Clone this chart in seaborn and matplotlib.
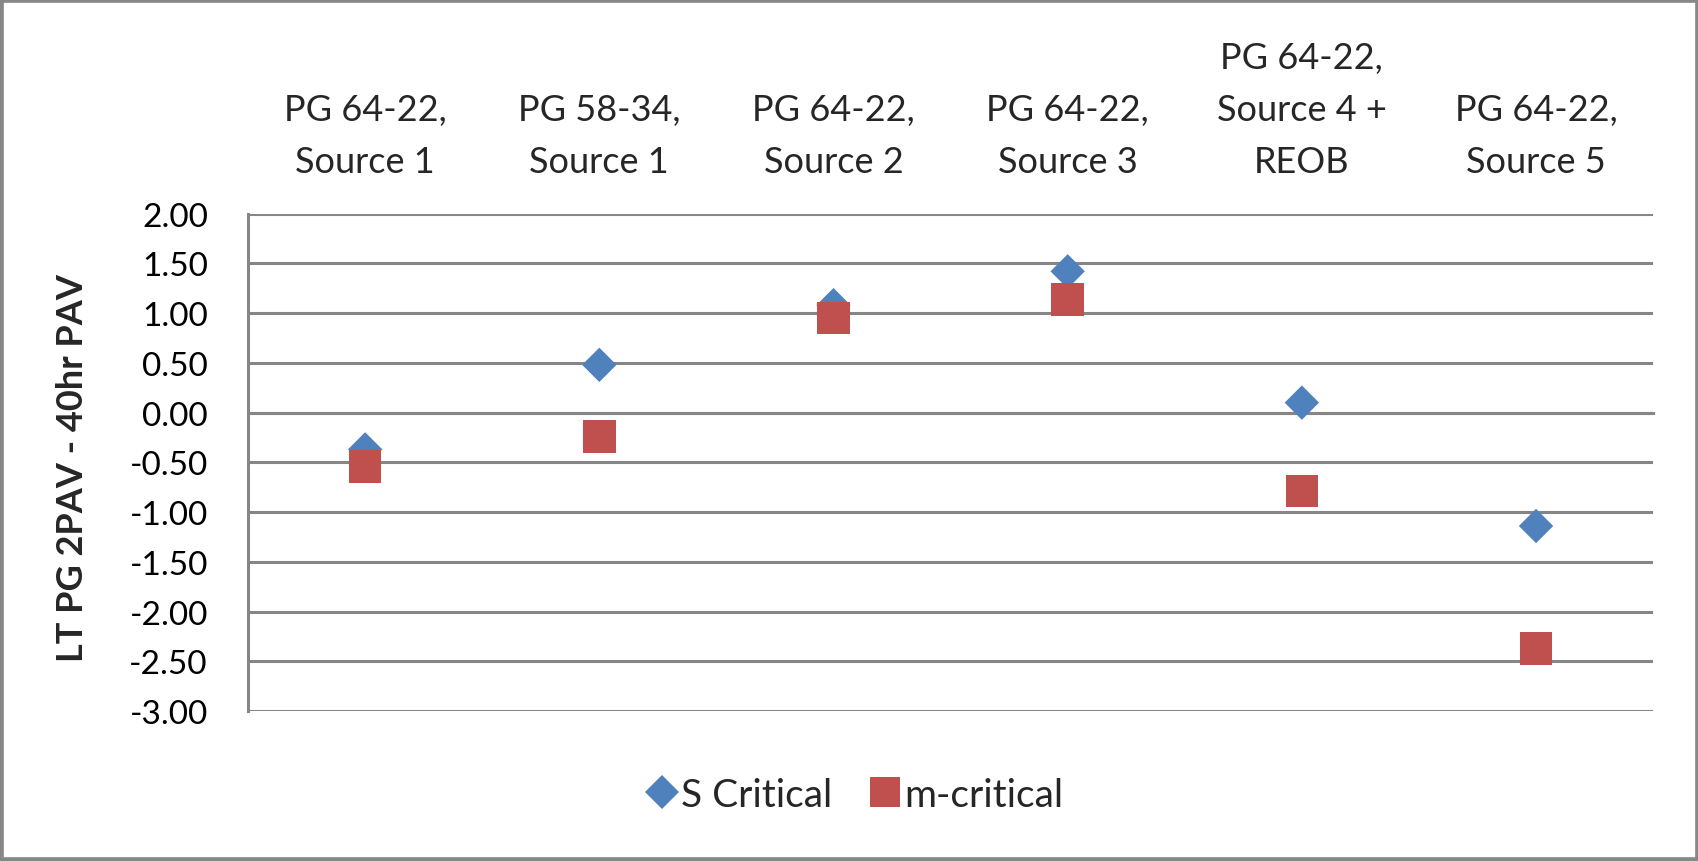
import matplotlib
matplotlib.use("Agg")
import matplotlib.pyplot as plt
import numpy as np
import pandas as pd
import seaborn as sns
from matplotlib.patches import Rectangle

categories = [
    "PG 64-22,\nSource 1",
    "PG 58-34,\nSource 1",
    "PG 64-22,\nSource 2",
    "PG 64-22,\nSource 3",
    "PG 64-22,\nSource 4 +\nREOB",
    "PG 64-22,\nSource 5",
]
s_critical = [-0.37, 0.48, 1.08, 1.42, 0.10, -1.14]
m_critical = [-0.54, -0.24, 0.95, 1.14, -0.79, -2.37]
series_names = ["S Critical", "m-critical"]
y_ticks = [2.0, 1.5, 1.0, 0.5, 0.0, -0.5, -1.0, -1.5, -2.0, -2.5, -3.0]

df = pd.DataFrame({
    "pos": list(range(len(categories))) * 2,
    "value": s_critical + m_critical,
    "series": [series_names[0]] * len(categories) + [series_names[1]] * len(categories),
})

sns.set_theme(style="white")
plt.rcParams["font.family"] = ["Lato", "DejaVu Sans"]

GRID = "#868686"
TICK_FS = 24
CAT_FS = 26
LW = 2.2
DIAMOND_MS = 17.5
SQUARE_MS = 23.5

fig = plt.figure(figsize=(16.99, 8.62), dpi=100)
ax = fig.add_axes([0.146, 0.174, 0.827, 0.577])

sns.scatterplot(
    data=df, x="pos", y="value", hue="series", style="series",
    hue_order=series_names, style_order=series_names,
    palette={"S Critical": "#4F81BD", "m-critical": "#C0504D"},
    markers={"S Critical": "D", "m-critical": "s"},
    ax=ax, legend=True, zorder=3,
)
# per-point marker areas: diamond and square share about the same bounding box
point_sizes = np.where(df["series"] == series_names[0], DIAMOND_MS ** 2, SQUARE_MS ** 2)
for c in ax.collections:
    c.set_sizes(point_sizes)
    c.set_edgecolor("none")
    c.set_linewidth(0)

ax.set_xlim(-0.5, len(categories) - 0.5)
ax.set_ylim(-3.0, 2.0)
ax.set_yticks(y_ticks)
ax.set_yticklabels([f"{v:.2f}" for v in y_ticks], fontsize=TICK_FS)
ax.grid(axis="y", color=GRID, linewidth=LW)
ax.set_axisbelow(True)

for side in ["top", "right"]:
    ax.spines[side].set_visible(False)
ax.spines["left"].set_color(GRID)
ax.spines["left"].set_linewidth(LW)
ax.spines["bottom"].set_position(("data", 0))
ax.spines["bottom"].set_color(GRID)
ax.spines["bottom"].set_linewidth(LW)

ax.tick_params(axis="y", which="major", direction="out", length=9, width=LW,
               color=GRID, pad=20, labelcolor="black")
ax.set_xticks(range(len(categories)))
ax.set_xticklabels([])
ax.tick_params(axis="x", which="major", length=0)
ax.set_xticks(np.arange(0.5, len(categories), 1.0), minor=True)
ax.tick_params(axis="x", which="minor", direction="out", length=9, width=LW, color=GRID)

top = ax.secondary_xaxis("top")
top.set_xticks(range(len(categories)))
top.set_xticklabels(categories, fontsize=CAT_FS, linespacing=1.7)
top.tick_params(length=0, pad=26)
top.spines["top"].set_visible(False)

ax.set_xlabel("")
ax.set_ylabel("LT PG 2PAV - 40hr PAV", fontsize=26, fontweight="bold")
ax.yaxis.set_label_coords(-0.113, 0.49)

handles, labels = ax.get_legend_handles_labels()
ax.get_legend().remove()
for h, name in zip(handles, labels):
    h.set_markersize(17 if name == "S Critical" else 21)
    h.set_markeredgewidth(0)
fig.legend(handles, labels, loc="center", bbox_to_anchor=(0.502, 0.077),
           ncol=2, frameon=False, fontsize=28, handletextpad=0.0,
           columnspacing=0.85, handlelength=1.0)

fig.patches.append(Rectangle((0, 0), 1, 1, transform=fig.transFigure,
                             fill=False, edgecolor="#878787", linewidth=5.5))

fig.savefig("out.png", dpi=100)
